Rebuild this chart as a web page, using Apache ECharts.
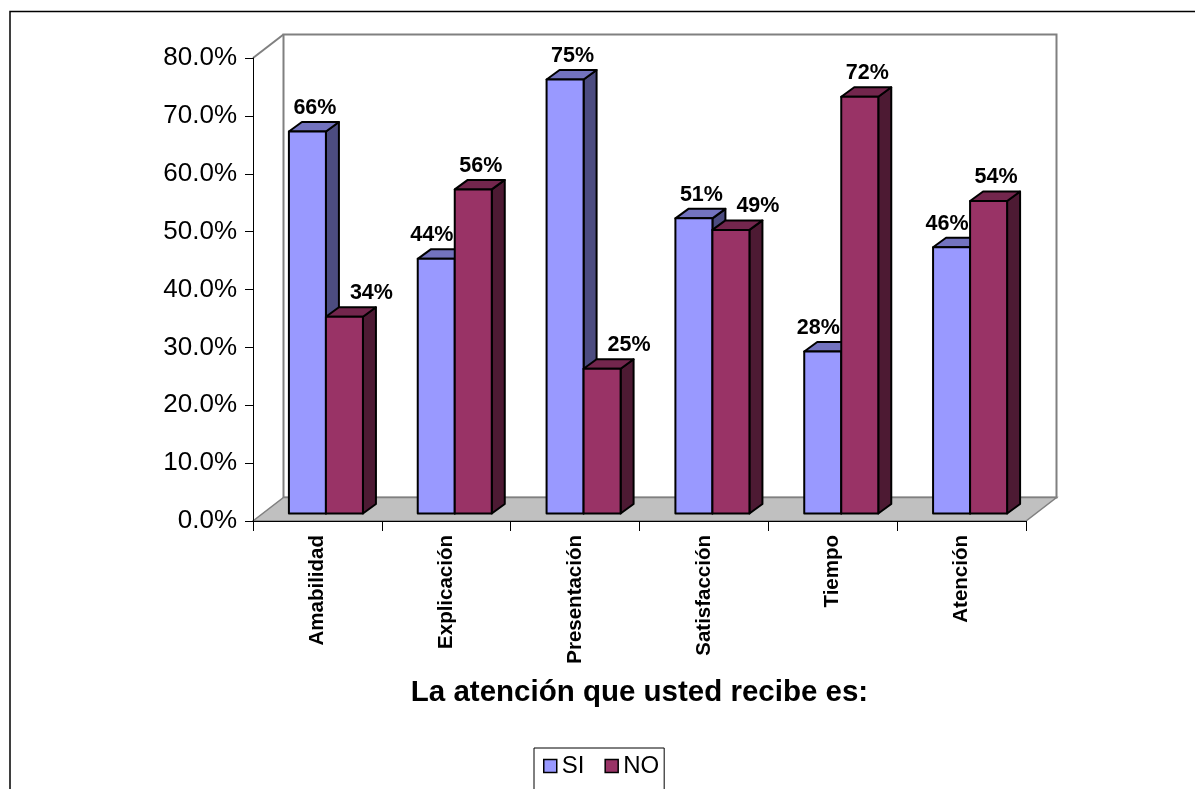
<!DOCTYPE html>
<html>
<head>
<meta charset="utf-8">
<title>La atención que usted recibe es:</title>
<script src="https://cdn.jsdelivr.net/npm/echarts@6/dist/echarts.min.js"></script>
<style>
  html, body { margin: 0; padding: 0; background: #ffffff; }
  #chart { width: 1195px; height: 789px; }
</style>
</head>
<body>
<div id="chart"></div>
<script>
// Survey answers, percentage of respondents per aspect
const categories = ['Amabilidad', 'Explicación', 'Presentación', 'Satisfacción', 'Tiempo', 'Atención'];
const siValues = [66, 44, 75, 51, 28, 46];
const noValues = [34, 56, 25, 49, 72, 54];
const seriesNames = ['SI', 'NO'];
const axisTitle = 'La atención que usted recibe es:';
const valueMin = 0;
const valueMax = 80;
const valueStep = 10;

// 3-D projection offsets (pixels)
const WALL_DX = 30.5, WALL_DY = -23.5;   // full depth of the floor / walls
const FRONT_DX = 8.5, FRONT_DY = -7.5;   // bar front plane inside the depth
const SIDE_DX = 13, SIDE_DY = -9.5;      // bar thickness in depth
const BAR_FRAC = 37 / 128.8;             // bar width as a fraction of the category band

// value label placement: default shift, and shifts used to keep clear of a taller neighbour
const LABEL_DX = 7.5, LABEL_DX_SI_LOW = -4.5, LABEL_DX_NO_LOW = 27, LABEL_DY = -23.5;

const FONT = '"Liberation Sans", Arial, Helvetica, sans-serif';

const palettes = [
  { front: '#9999FF', top: '#7373BF', side: '#4C4C80' },
  { front: '#993366', top: '#73264D', side: '#4D1A33' }
];

function renderWalls(params, api) {
  const cs = params.coordSys;
  const L = cs.x, R = cs.x + cs.width, T = cs.y, B = cs.y + cs.height;
  const gray = '#808080';
  return {
    type: 'group',
    children: [
      { type: 'polygon', shape: { points: [[L, B], [L + WALL_DX, B + WALL_DY], [L + WALL_DX, T + WALL_DY], [L, T]] },
        style: { fill: '#ffffff', stroke: null } },
      { type: 'rect', shape: { x: L + WALL_DX, y: T + WALL_DY, width: R - L, height: B - T },
        style: { fill: '#ffffff', stroke: gray, lineWidth: 2 } },
      { type: 'line', shape: { x1: L, y1: T, x2: L + WALL_DX, y2: T + WALL_DY },
        style: { stroke: gray, lineWidth: 2 } },
      { type: 'polygon', shape: { points: [[L, B], [R, B], [R + WALL_DX, B + WALL_DY], [L + WALL_DX, B + WALL_DY]] },
        style: { fill: '#C0C0C0', stroke: gray, lineWidth: 1.5 } }
    ]
  };
}

function makeBarRenderer(slot, palette, own, other) {
  return function (params, api) {
    const cat = api.value(0);
    const val = api.value(1);
    const base = api.coord([cat, 0]);
    const peak = api.coord([cat, val]);
    const band = api.size([1, 0])[0];
    const w = band * BAR_FRAC;
    const x0 = base[0] - (slot === 0 ? w : 0) + FRONT_DX;
    const x1 = x0 + w;
    const yb = base[1] + FRONT_DY;
    const yt = peak[1] + FRONT_DY;
    const lower = own[cat] < other[cat];
    const ldx = lower ? (slot === 0 ? LABEL_DX_SI_LOW : LABEL_DX_NO_LOW) : LABEL_DX;
    const edge = { stroke: '#000000', lineWidth: 2, lineJoin: 'round' };
    return {
      type: 'group',
      children: [
        { type: 'polygon', shape: { points: [[x1, yb], [x1 + SIDE_DX, yb + SIDE_DY], [x1 + SIDE_DX, yt + SIDE_DY], [x1, yt]] },
          style: Object.assign({ fill: palette.side }, edge) },
        { type: 'polygon', shape: { points: [[x0, yt], [x1, yt], [x1 + SIDE_DX, yt + SIDE_DY], [x0 + SIDE_DX, yt + SIDE_DY]] },
          style: Object.assign({ fill: palette.top }, edge) },
        { type: 'rect', shape: { x: x0, y: yt, width: w, height: yb - yt },
          style: Object.assign({ fill: palette.front }, edge) },
        { type: 'text', x: (x0 + x1) / 2 + ldx, y: yt + LABEL_DY,
          style: { text: val + '%', fill: '#000000', font: 'bold 21.5px ' + FONT, align: 'center', verticalAlign: 'middle' } }
      ]
    };
  };
}

const chart = echarts.init(document.getElementById('chart'), null, { renderer: 'canvas' });

chart.setOption({
  animation: false,
  backgroundColor: '#ffffff',
  textStyle: { fontFamily: FONT },
  grid: { left: 253, top: 58, right: 169, bottom: 268, containLabel: false },
  graphic: [
    { type: 'rect', shape: { x: 10, y: 11.5, width: 1300, height: 900 },
      style: { fill: null, stroke: '#000000', lineWidth: 1.5 }, z: 100 }
  ],
  legend: {
    top: 748, left: 534,
    itemWidth: 13, itemHeight: 13, itemGap: 20,
    padding: [6, 5, 40, 9],
    borderColor: '#000000', borderWidth: 1,
    textStyle: { fontSize: 24, color: '#000000', fontFamily: FONT },
    itemStyle: { borderColor: '#000000', borderWidth: 1.5 },
    data: seriesNames.map(n => ({ name: n, icon: 'rect' }))
  },
  xAxis: {
    type: 'category',
    data: categories,
    z: 3,
    boundaryGap: true,
    name: axisTitle,
    nameLocation: 'middle',
    nameGap: 172,
    nameTextStyle: { fontSize: 29.5, fontWeight: 'bold', color: '#000000', fontFamily: FONT, verticalAlign: 'middle' },
    axisLine: { show: true, lineStyle: { color: '#000000', width: 1 } },
    axisTick: { show: true, interval: 0, length: 10, alignWithLabel: false, lineStyle: { color: '#000000' } },
    axisLabel: { interval: 0, rotate: 90, margin: 14, fontSize: 20.5, fontWeight: 'bold', color: '#000000', fontFamily: FONT },
    splitLine: { show: false }
  },
  yAxis: {
    type: 'value',
    min: valueMin, max: valueMax, interval: valueStep,
    z: 3,
    axisLine: { show: true, lineStyle: { color: '#000000', width: 1 } },
    axisTick: { show: true, length: 8, lineStyle: { color: '#000000' } },
    axisLabel: { margin: 16, fontSize: 26, color: '#000000', fontFamily: FONT,
                 formatter: v => v.toFixed(1) + '%' },
    splitLine: { show: false }
  },
  series: [
    { type: 'custom', name: 'walls', z: 1, silent: true, clip: false,
      renderItem: renderWalls, data: [[0, 0]], encode: { x: 0, y: 1 } },
    { type: 'custom', name: seriesNames[0], z: 4, clip: false,
      itemStyle: { color: palettes[0].front },
      renderItem: makeBarRenderer(0, palettes[0], siValues, noValues),
      data: siValues.map((v, i) => [i, v]), encode: { x: 0, y: 1 } },
    { type: 'custom', name: seriesNames[1], z: 4, clip: false,
      itemStyle: { color: palettes[1].front },
      renderItem: makeBarRenderer(1, palettes[1], noValues, siValues),
      data: noValues.map((v, i) => [i, v]), encode: { x: 0, y: 1 } }
  ]
});
</script>
</body>
</html>
